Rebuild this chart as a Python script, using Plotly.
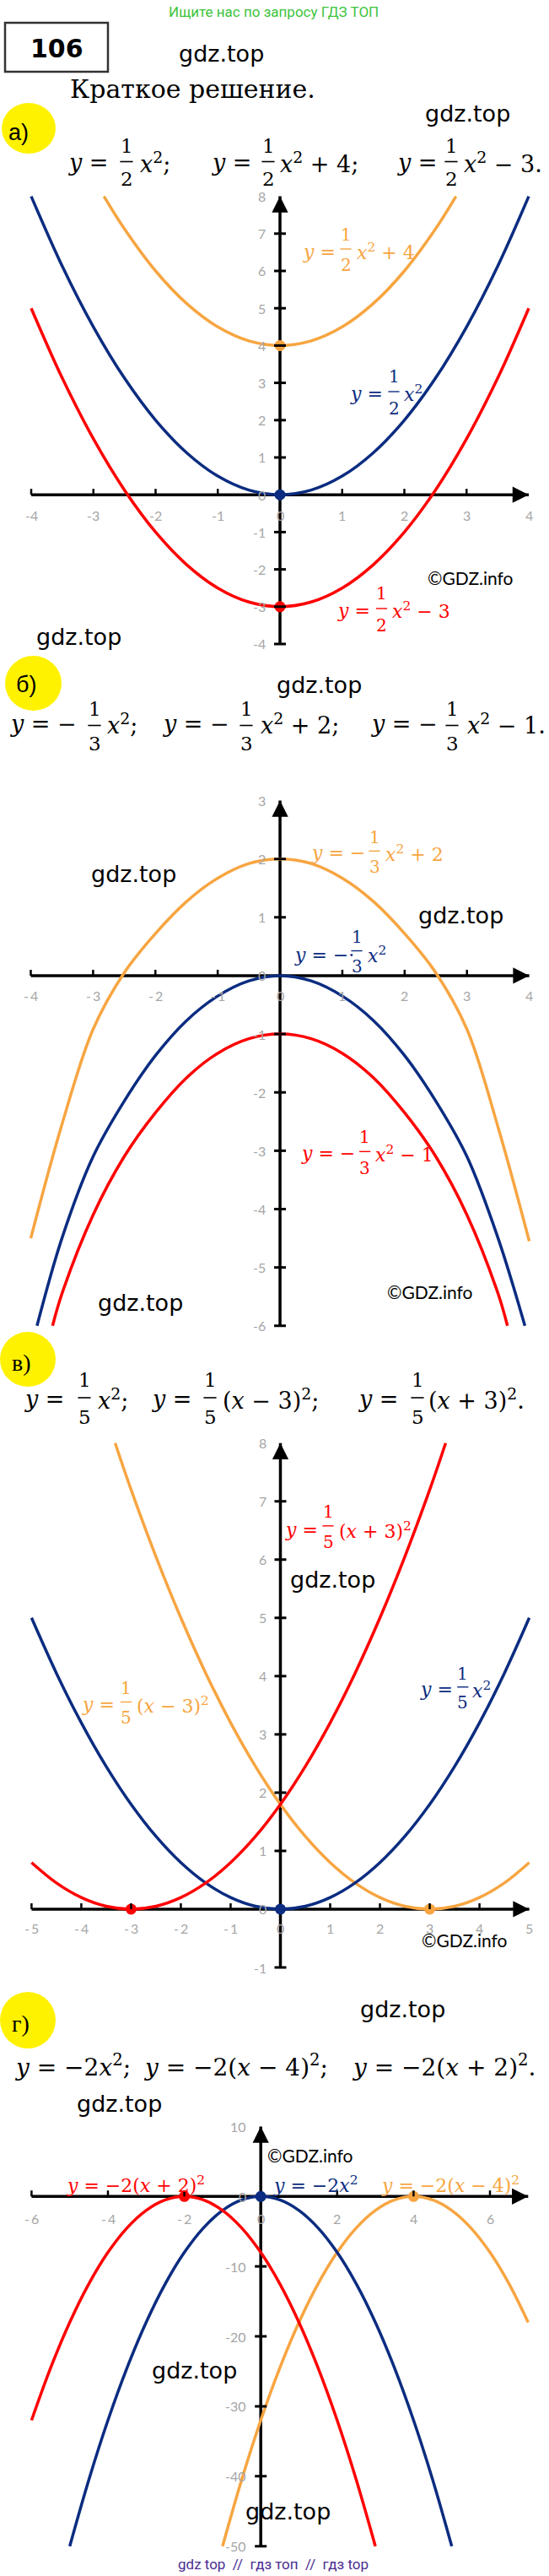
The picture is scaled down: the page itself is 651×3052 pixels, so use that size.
import plotly.graph_objects as go

W, H = 651, 3052
SERIF = "DejaVu Serif"
SANS = "DejaVu Sans"
TICKFONT = "Lato"
ORANGE = "#F7A541"
NAVY = "#0B2C80"
RED = "#FF0000"
TICK_GRAY = "#A6A6A6"
YELLOW = "#FFF200"

# ---------------- panel a: y = x^2/2, y = x^2/2 + 4, y = x^2/2 - 3 ----------------
A_X = [-4, -3.5, -3, -2.5, -2, -1.5, -1, -0.5, 0, 0.5, 1, 1.5, 2, 2.5, 3, 3.5, 4]
A_BLUE_Y = [8, 6.125, 4.5, 3.125, 2, 1.125, 0.5, 0.125, 0, 0.125, 0.5, 1.125, 2, 3.125, 4.5, 6.125, 8]
A_RED_Y = [5, 3.125, 1.5, 0.125, -1, -1.875, -2.5, -2.875, -3, -2.875, -2.5, -1.875, -1, 0.125, 1.5, 3.125, 5]
A_ORANGE_X = [-2.83, -2.5, -2, -1.5, -1, -0.5, 0, 0.5, 1, 1.5, 2, 2.5, 2.83]
A_ORANGE_Y = [8, 7.125, 6, 5.125, 4.5, 4.125, 4, 4.125, 4.5, 5.125, 6, 7.125, 8]
A_VERTEX_X = [0, 0, 0]
A_VERTEX_Y = [4, 0, -3]

# ---------------- panel b ----------------
B_BLUE_X = [-3.9, -3.5, -3, -2.5, -2, -1.5, -1, -0.5, 0, 0.5, 1, 1.5, 2, 2.5, 3, 3.5, 3.93]
B_BLUE_Y = [-6.0, -4.5, -3.1, -2.15, -1.37, -0.77, -0.35, -0.09, 0, -0.09, -0.35, -0.77, -1.37, -2.15, -3.1, -4.5, -6.0]
B_RED_X = [-3.65, -3.5, -3, -2.5, -2, -1.5, -1, -0.5, 0, 0.5, 1, 1.5, 2, 2.5, 3, 3.5, 3.65]
B_RED_Y = [-6.0, -5.45, -4.1, -3.1, -2.35, -1.75, -1.33, -1.08, -1.0, -1.08, -1.33, -1.75, -2.35, -3.1, -4.1, -5.45, -6.0]
B_ORANGE_X = [-4, -3.5, -3, -2.5, -2, -1.5, -1, -0.5, 0, 0.5, 1, 1.5, 2, 2.5, 3, 3.5, 4]
B_ORANGE_Y = [-4.5, -2.55, -0.92, 0.05, 0.72, 1.27, 1.67, 1.92, 2.0, 1.92, 1.67, 1.27, 0.72, 0.05, -0.92, -2.6, -4.55]

# ---------------- panel c ----------------
C_BLUE_X = [-5, -4.5, -4, -3.5, -3, -2.5, -2, -1.5, -1, -0.5, 0, 0.5, 1, 1.5, 2, 2.5, 3, 3.5, 4, 4.5, 5]
C_BLUE_Y = [5, 4.05, 3.2, 2.45, 1.8, 1.25, 0.8, 0.45, 0.2, 0.05, 0, 0.05, 0.2, 0.45, 0.8, 1.25, 1.8, 2.45, 3.2, 4.05, 5]
C_ORANGE_X = [-3.32, -3, -2.5, -2, -1.5, -1, -0.5, 0, 0.5, 1, 1.5, 2, 2.5, 3, 3.5, 4, 4.5, 5]
C_ORANGE_Y = [8, 7.2, 6.05, 5.0, 4.05, 3.2, 2.45, 1.8, 1.25, 0.8, 0.45, 0.2, 0.05, 0, 0.05, 0.2, 0.45, 0.8]
C_RED_X = [-5, -4.5, -4, -3.5, -3, -2.5, -2, -1.5, -1, -0.5, 0, 0.5, 1, 1.5, 2, 2.5, 3, 3.32]
C_RED_Y = [0.8, 0.45, 0.2, 0.05, 0, 0.05, 0.2, 0.45, 0.8, 1.25, 1.8, 2.45, 3.2, 4.05, 5.0, 6.05, 7.2, 8]
C_VERTEX_X = [-3, 0, 3]
C_VERTEX_Y = [0, 0, 0]

# ---------------- panel d ----------------
D_BLUE_X = [-5, -4.5, -4, -3.5, -3, -2.5, -2, -1.5, -1, -0.5, 0, 0.5, 1, 1.5, 2, 2.5, 3, 3.5, 4, 4.5, 5]
D_BLUE_Y = [-50, -40.5, -32, -24.5, -18, -12.5, -8, -4.5, -2, -0.5, 0, -0.5, -2, -4.5, -8, -12.5, -18, -24.5, -32, -40.5, -50]
D_RED_X = [-6, -5.5, -5, -4.5, -4, -3.5, -3, -2.5, -2, -1.5, -1, -0.5, 0, 0.5, 1, 1.5, 2, 2.5, 3]
D_RED_Y = [-32, -24.5, -18, -12.5, -8, -4.5, -2, -0.5, 0, -0.5, -2, -4.5, -8, -12.5, -18, -24.5, -32, -40.5, -50]
D_ORANGE_X = [-1, -0.5, 0, 0.5, 1, 1.5, 2, 2.5, 3, 3.5, 4, 4.5, 5, 5.5, 6, 6.5, 7]
D_ORANGE_Y = [-50, -40.5, -32, -24.5, -18, -12.5, -8, -4.5, -2, -0.5, 0, -0.5, -2, -4.5, -8, -12.5, -18]
D_VERTEX_X = [-2, 0, 4]
D_VERTEX_Y = [0, 0, 0]

# ---------------- tick values ----------------
A_XTICKS = [-4, -3, -2, -1, 0, 1, 2, 3, 4]
A_YTICKS = [-4, -3, -2, -1, 0, 1, 2, 3, 4, 5, 6, 7, 8]
B_XTICKS = [-4, -3, -2, -1, 0, 1, 2, 3, 4]
B_YTICKS = [-6, -5, -4, -3, -2, -1, 0, 1, 2, 3]
C_XTICKS = [-5, -4, -3, -2, -1, 0, 1, 2, 3, 4, 5]
C_YTICKS = [-1, 0, 1, 2, 3, 4, 5, 6, 7, 8]
D_XTICKS = [-6, -4, -2, 0, 2, 4, 6]
D_YTICKS = [-50, -40, -30, -20, -10, 0, 10]

panels = [
    dict(xr=(-4, 4), xpx=(37, 627), yr=(-4, 8), ypx=(763, 232.6), xt=A_XTICKS, yt=A_YTICKS, spaced=False,
         curves=[(A_ORANGE_X, A_ORANGE_Y, ORANGE), (A_X, A_BLUE_Y, NAVY), (A_X, A_RED_Y, RED)],
         vx=A_VERTEX_X, vy=A_VERTEX_Y, vc=[ORANGE, NAVY, RED], xlab_dy=-24),
    dict(xr=(-4, 4), xpx=(36.5, 627.6), yr=(-6, 3), ypx=(1570.8, 948.5), xt=B_XTICKS, yt=B_YTICKS, spaced=True,
         curves=[(B_ORANGE_X, B_ORANGE_Y, ORANGE), (B_BLUE_X, B_BLUE_Y, NAVY), (B_RED_X, B_RED_Y, RED)],
         vx=[], vy=[], vc=[], xlab_dy=-24),
    dict(xr=(-5, 5), xpx=(37.4, 627.6), yr=(-1, 8), ypx=(2331, 1709.7), xt=C_XTICKS, yt=C_YTICKS, spaced=True,
         curves=[(C_ORANGE_X, C_ORANGE_Y, ORANGE), (C_BLUE_X, C_BLUE_Y, NAVY), (C_RED_X, C_RED_Y, RED)],
         vx=C_VERTEX_X, vy=C_VERTEX_Y, vc=[RED, NAVY, ORANGE], xlab_dy=-23),
    dict(xr=(-6, 7), xpx=(37.4, 626.3), yr=(-50, 10), ypx=(3016.7, 2519.4), xt=D_XTICKS, yt=D_YTICKS, spaced=True,
         curves=[(D_ORANGE_X, D_ORANGE_Y, ORANGE), (D_BLUE_X, D_BLUE_Y, NAVY), (D_RED_X, D_RED_Y, RED)],
         vx=D_VERTEX_X, vy=D_VERTEX_Y, vc=[RED, NAVY, ORANGE], xlab_dy=-26),
]

fig = go.Figure()
shapes = []
ann = []
layout = {}


def PX(x):
    return x / W


def PY(y):
    return 1 - y / H


def text(s, x, y, size, color="black", family=SERIF, xanchor="left"):
    ann.append(dict(xref="paper", yref="paper", x=PX(x), y=PY(y), text=s, showarrow=False,
                    xanchor=xanchor, yanchor="middle",
                    font=dict(family=family, size=size, color=color)))


def frac(xc, yn, yd, num, den, size, color="black", lw=1.6):
    text(num, xc, yn, size, color, SERIF, "center")
    text(den, xc, yd, size, color, SERIF, "center")
    bw = 0.66 * size
    yb = (yn + yd) / 2 - 1
    shapes.append(dict(type="line", xref="paper", yref="paper", x0=PX(xc - bw / 2), x1=PX(xc + bw / 2),
                       y0=PY(yb), y1=PY(yb), line=dict(color=color, width=lw)))


def ellipse(x0, x1, y0, y1):
    shapes.append(dict(type="circle", xref="paper", yref="paper", x0=PX(x0), x1=PX(x1), y0=PY(y1), y1=PY(y0),
                       fillcolor=YELLOW, line=dict(width=0), layer="below"))


def tick_label(t, spaced):
    if t < 0 and spaced:
        return "-\u2009" + str(-t)
    return str(t)


for i, p in enumerate(panels):
    n = "" if i == 0 else str(i + 1)
    xref, yref = "x" + n, "y" + n
    pad = 16
    x0, x1 = p["xr"]
    y0, y1 = p["yr"]
    sx = (p["xpx"][1] - p["xpx"][0]) / (x1 - x0)
    sy = (p["ypx"][0] - p["ypx"][1]) / (y1 - y0)
    layout["xaxis" + n] = dict(domain=[(p["xpx"][0] - pad) / W, (p["xpx"][1] + pad) / W],
                               range=[x0 - pad / sx, x1 + pad / sx], visible=False, anchor=yref, fixedrange=True)
    layout["yaxis" + n] = dict(domain=[1 - (p["ypx"][0] + pad) / H, 1 - (p["ypx"][1] - pad) / H],
                               range=[y0 - pad / sy, y1 + pad / sy], visible=False, anchor=xref, fixedrange=True)
    # axis lines
    fig.add_trace(go.Scatter(x=[x0, x1], y=[0, 0], mode="lines", line=dict(color="black", width=3.5),
                             xaxis=xref, yaxis=yref, hoverinfo="skip"))
    fig.add_trace(go.Scatter(x=[0, 0], y=[y0, y1], mode="lines", line=dict(color="black", width=3.5),
                             xaxis=xref, yaxis=yref, hoverinfo="skip"))
    # curves
    for cx, cy, col in p["curves"]:
        fig.add_trace(go.Scatter(x=cx, y=cy, mode="lines",
                                 line=dict(color=col, width=3.5, shape="spline", smoothing=1.0),
                                 xaxis=xref, yaxis=yref, hoverinfo="skip"))
    if p["vx"]:
        fig.add_trace(go.Scatter(x=p["vx"], y=p["vy"], mode="markers",
                                 marker=dict(color=p["vc"], size=13, line=dict(width=0)),
                                 cliponaxis=False, xaxis=xref, yaxis=yref, hoverinfo="skip"))
    # arrows
    ann.append(dict(xref=xref, yref=yref, x=x1, y=0, ax=-15, ay=0, text="", showarrow=True,
                    arrowhead=2, arrowsize=1.1, arrowwidth=3.5, arrowcolor="black"))
    ann.append(dict(xref=xref, yref=yref, x=0, y=y1, ax=0, ay=15, text="", showarrow=True,
                    arrowhead=2, arrowsize=1.1, arrowwidth=3.5, arrowcolor="black"))
    # tick marks
    for t in p["xt"]:
        if t != 0 and t != x1:
            shapes.append(dict(type="line", xref=xref, yref=yref, x0=t, x1=t, ysizemode="pixel", yanchor=0,
                               y0=0, y1=7, line=dict(color="black", width=2.5)))
    for t in p["yt"]:
        if t != 0 and t != y1:
            shapes.append(dict(type="line", xref=xref, yref=yref, y0=t, y1=t, xsizemode="pixel", xanchor=0,
                               x0=-7, x1=7, line=dict(color="black", width=3)))
    # tick labels
    for t in p["xt"]:
        ann.append(dict(xref=xref, yref=yref, x=t, y=0, yshift=p["xlab_dy"], text=tick_label(t, p["spaced"]),
                        showarrow=False, xanchor="center", yanchor="middle",
                        font=dict(family=TICKFONT, size=16, color=TICK_GRAY)))
    for t in p["yt"]:
        ann.append(dict(xref=xref, yref=yref, x=0, y=t, xshift=-15, text=tick_label(t, False),
                        showarrow=False, xanchor="right", yanchor="middle",
                        font=dict(family=TICKFONT, size=16, color=TICK_GRAY)))

# ---------------- header ----------------
text("Ищите нас по запросу ГДЗ ТОП", 324, 14, 17, "#3DC43D", "Roboto", "center")
shapes.append(dict(type="rect", xref="paper", yref="paper", x0=PX(6), x1=PX(128), y0=PY(85), y1=PY(27),
                   line=dict(color="#333333", width=2.5)))
text("<b>106</b>", 67, 57, 30, "black", SANS, "center")
text("gdz.top", 262, 63, 27, "black", SANS, "center")
text("Краткое решение.", 81, 106, 30, "black", SERIF, "left")
text("gdz.top", 554, 134, 27, "black", SANS, "center")

M, F = 27, 23
Y = "<i>y</i>"
X = "<i>x</i>"
SQ = "<sup>2</sup>"

# ---------------- a) ----------------
ellipse(2, 66, 122, 182)
text("а)", 22, 157, 27, "black", "Liberation Sans", "center")
text(Y + " =", 79, 192, M)
frac(150, 173, 212, "1", "2", F)
text(X + SQ + ";", 164, 192, M)
text(Y + " =", 249, 192, M)
frac(318, 173, 212, "1", "2", F)
text(X + SQ + " + 4;", 330, 192, M)
text(Y + " =", 469, 192, M)
frac(535, 173, 212, "1", "2", F)
text(X + SQ + " − 3.", 548, 192, M)

L, LF = 22, 20
text(Y + " =", 357, 298, L, ORANGE)
frac(410, 278, 314, "1", "2", LF, ORANGE, 1.4)
text(X + SQ + " + 4", 421, 298, L, ORANGE)
text(Y + " =", 413, 466, L, NAVY)
frac(467, 446, 484, "1", "2", LF, NAVY, 1.4)
text(X + SQ, 477, 466, L, NAVY)
text(Y + " =", 398, 723, L, RED)
frac(452.5, 703, 741, "1", "2", LF, RED, 1.4)
text(X + SQ + " − 3", 463, 723, L, RED)
text("©GDZ.info", 558, 685, 21, "black", TICKFONT, "center")
text("gdz.top", 93, 755, 27, "black", SANS, "center")

# ---------------- б) ----------------
ellipse(6, 73, 777, 842)
text("б)", 31, 811, 27, "black", "Liberation Sans", "center")
text("gdz.top", 378, 812, 27, "black", SANS, "center")
text(Y + " = −", 10, 857, M)
frac(112, 840, 881, "1", "3", F)
text(X + SQ + ";", 125, 857, M)
text(Y + " = −", 191, 857, M)
frac(292, 840, 881, "1", "3", F)
text(X + SQ + " + 2;", 307, 857, M)
text(Y + " = −", 438, 857, M)
frac(536, 840, 881, "1", "3", F)
text(X + SQ + " − 1.", 552, 857, M)

text(Y + " = −", 367, 1010.6, L, ORANGE)
frac(444, 991.6, 1027, "1", "3", LF, ORANGE, 1.4)
text(X + SQ + " + 2", 455, 1010.6, L, ORANGE)
text(Y + " = −·", 347, 1131, L, NAVY)
frac(423, 1110, 1145, "1", "3", LF, NAVY, 1.4)
text(X + SQ, 434, 1131, L, NAVY)
text(Y + " = −", 355, 1366.7, L, RED)
frac(432.7, 1346.7, 1384, "1", "3", LF, RED, 1.4)
text(X + SQ + " − 1", 443, 1366.7, L, RED)
text("gdz.top", 158, 1035, 27, "black", SANS, "center")
text("gdz.top", 546, 1085, 27, "black", SANS, "center")
text("gdz.top", 166, 1543, 27, "black", SANS, "center")
text("©GDZ.info", 510, 1530, 21, "black", TICKFONT, "center")

# ---------------- в) ----------------
ellipse(0, 66, 1578, 1643)
text("в)", 25, 1614, 28, "black", "Liberation Serif", "center")
text(Y + " =", 27, 1657, M)
frac(100, 1635, 1679, "1", "5", F)
text(X + SQ + ";", 114, 1657, M)
text(Y + " =", 178, 1657, M)
frac(249, 1635, 1679, "1", "5", F)
text("(" + X + " − 3)" + SQ + ";", 262, 1657, M)
text(Y + " =", 423, 1657, M)
frac(495, 1635, 1679, "1", "5", F)
text("(" + X + " + 3)" + SQ + ".", 506, 1657, M)

text(Y + " =", 336, 1812.5, L, RED)
frac(389, 1790.7, 1827, "1", "5", LF, RED, 1.4)
text("(" + X + " + 3)" + SQ, 400, 1812.5, L, RED)
text(Y + " =", 95, 2020, L, ORANGE)
frac(149.4, 2000, 2035, "1", "5", LF, ORANGE, 1.4)
text("(" + X + " − 3)" + SQ, 160, 2020, L, ORANGE)
text(Y + " =", 496, 2002, L, NAVY)
frac(548.8, 1982.5, 2017, "1", "5", LF, NAVY, 1.4)
text(X + SQ, 558, 2002, L, NAVY)
text("gdz.top", 394, 1872, 27, "black", SANS, "center")
text("©GDZ.info", 551, 2298, 21, "black", TICKFONT, "center")

# ---------------- г) ----------------
ellipse(0, 66, 2360, 2427)
text("г)", 24, 2397, 28, "black", "Liberation Serif", "center")
text("gdz.top", 477, 2380, 27, "black", SANS, "center")
text(Y + " = −2" + X + SQ + ";", 15, 2447, 28)
text(Y + " = −2(" + X + " − 4)" + SQ + ";", 168, 2447, 28)
text(Y + " = −2(" + X + " + 2)" + SQ + ".", 415, 2447, 28)
text("gdz.top", 141, 2492, 27, "black", SANS, "center")
text("©GDZ.info", 368, 2553, 21, "black", TICKFONT, "center")
text(Y + " = −2(" + X + " + 2)" + SQ, 77, 2588, L, RED)
text(Y + " = −2" + X + SQ, 322, 2588, L, NAVY)
text(Y + " = −2(" + X + " − 4)" + SQ, 450, 2588, L, ORANGE)
text("gdz.top", 230, 2808, 27, "black", SANS, "center")
text("gdz.top", 342, 2975, 27, "black", SANS, "center")
text("gdz top\u00a0 //\u00a0 гдз топ\u00a0 //\u00a0 гдз top", 324, 3038, 17, "#4B2D91", "Roboto", "center")

fig.update_layout(width=W, height=H, margin=dict(l=0, r=0, t=0, b=0), autosize=False,
                  paper_bgcolor="white", plot_bgcolor="white", showlegend=False, hovermode=False,
                  shapes=shapes, annotations=ann, **layout)

fig.write_html("out.html", config={"displayModeBar": False},
               post_script="document.body.style.margin='0';")
